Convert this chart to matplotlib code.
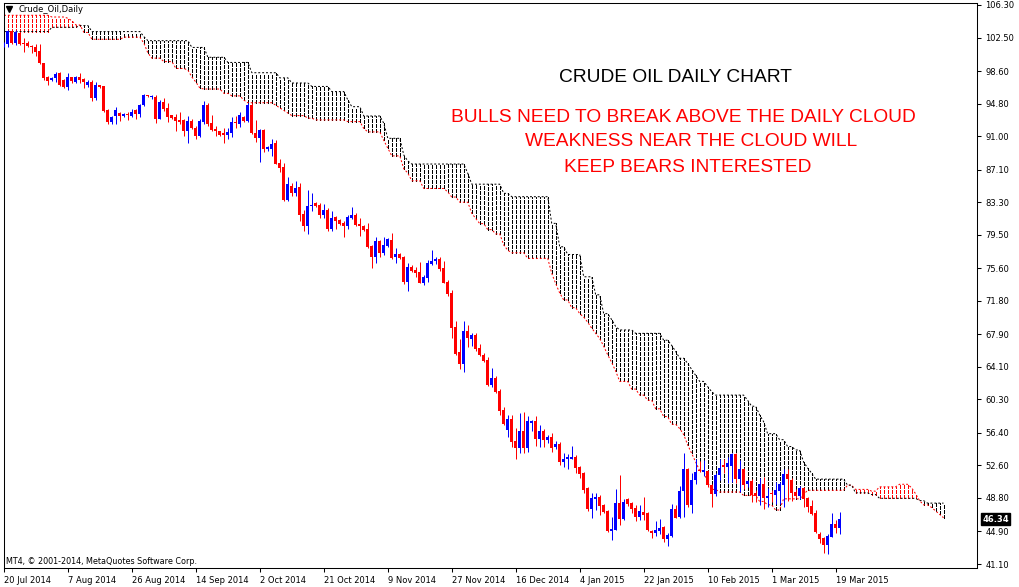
import numpy as np
import matplotlib
matplotlib.use("Agg")
import matplotlib.pyplot as plt

plt.rcParams['lines.scale_dashes'] = False

# ---------------- data ----------------
opens = [101.6,101.75,103.27,101.83,103.07,101.9,101.9,101.55,101.44,100.93,
         99.5,97.9,97.51,97.82,98.4,97.55,96.77,97.86,97.28,97.86,
         97.67,96.97,97.36,95.49,96.93,96.85,94.05,92.69,93.36,93.75,
         93.4,93.51,93.36,94.05,93.55,94.63,95.8,95.6,95.6,93.0,
         95.02,94.25,93.47,93.28,92.89,92.89,91.64,92.77,91.99,91.02,
         92.6,94.64,92.58,91.84,91.6,91.33,91.1,91.41,92.69,92.38,
         93.28,92.81,94.64,91.33,90.75,91.72,89.55,89.5,90.24,87.91,
         87.44,83.55,85.19,84.41,85.11,81.92,80.56,82.86,83.25,82.97,
         81.8,82.39,80.17,81.61,81.22,80.91,80.56,81.42,81.8,80.76,
         80.52,80.13,78.19,76.87,78.77,77.33,78.19,78.89,76.87,77.26,
         76.95,74.03,75.7,75.39,75.2,73.91,74.5,76.09,76.4,76.63,
         75.66,74.03,72.75,68.78,65.86,64.42,68.27,67.34,67.81,66.33,
         65.43,64.89,62.0,62.85,61.32,59.06,56.73,58.01,55.44,54.67,
         56.61,54.67,57.5,57.78,55.68,56.61,55.56,55.87,54.7,55.09,
         53.03,53.3,53.35,53.62,52.45,51.67,49.92,47.51,48.65,48.96,
         47.98,47.32,44.99,45.06,48.18,46.35,48.65,48.18,47.59,46.62,
         47.2,47.0,44.99,44.75,44.99,45.45,44.01,44.36,47.51,46.54,
         49.61,52.18,47.98,50.9,52.06,51.87,51.98,50.31,49.23,51.48,
         52.65,52.45,52.53,53.93,51.01,52.14,50.43,50.78,49.34,49.03,
         50.39,48.84,49.34,49.15,49.65,50.31,51.56,50.9,49.53,49.07,
         49.92,48.84,47.87,47.0,44.6,44.17,43.32,44.29,45.76,45.34]
highs = [102.0,103.4,103.4,103.4,103.2,102.4,102.1,101.67,101.75,101.7,
         99.57,98.0,97.9,98.5,98.5,97.7,98.33,97.94,98.0,98.4,
         97.74,97.55,97.55,97.28,97.0,96.9,94.13,93.35,94.36,93.82,
         93.66,93.82,94.2,94.2,94.75,95.9,95.85,95.8,95.76,95.2,
         95.41,94.83,93.5,93.59,93.86,92.96,93.35,92.96,92.19,93.0,
         95.1,94.83,93.47,92.19,91.64,91.92,91.92,93.2,93.35,93.86,
         93.39,94.83,94.83,92.89,91.8,91.8,89.9,90.63,90.55,88.3,
         87.83,86.2,85.5,85.77,85.5,82.39,84.72,84.4,83.36,83.17,
         83.05,82.58,82.27,81.73,81.3,81.14,81.8,82.78,82.0,81.42,
         80.64,80.83,78.3,79.28,78.89,79.28,79.08,79.74,77.99,77.41,
         77.02,76.17,75.97,75.7,76.36,74.81,76.56,77.72,76.94,76.87,
         76.48,74.22,73.06,69.44,67.3,69.44,68.97,68.08,68.0,66.72,
         65.67,65.2,64.0,63.0,61.47,59.45,58.48,58.48,56.92,58.75,
         58.87,58.36,57.9,58.36,57.31,56.84,56.15,56.42,55.48,55.37,
         54.08,53.93,54.86,53.81,52.53,51.87,50.12,49.42,49.42,49.15,
         48.1,47.4,46.62,49.81,51.48,48.65,48.76,48.37,47.98,47.98,
         48.96,47.12,45.06,46.11,46.35,45.57,44.67,48.1,47.98,50.2,
         54.08,52.34,51.75,53.3,53.15,53.23,52.06,50.43,51.67,53.3,
         53.3,53.62,54.0,54.0,53.23,52.26,50.9,50.98,49.73,51.17,
         51.28,49.92,49.73,50.7,50.62,52.14,52.14,51.09,49.81,50.2,
         50.12,48.96,48.56,47.4,44.87,44.29,44.6,47.0,46.23,47.2]
lows = [101.4,101.4,101.75,101.6,101.6,100.85,101.4,100.66,100.35,99.4,
        97.55,96.93,97.4,97.35,96.9,96.6,96.38,97.16,97.16,97.16,
        96.58,96.77,95.1,95.18,96.65,93.85,92.42,92.42,92.42,92.81,
        93.2,92.9,93.2,92.96,93.27,94.52,95.6,95.37,92.58,92.96,
        93.97,92.69,93.0,91.64,92.38,91.06,90.24,91.84,90.63,90.87,
        92.38,92.22,91.6,91.02,91.02,90.24,90.63,90.94,91.92,92.1,
        92.69,92.69,91.25,90.36,88.0,89.12,89.27,88.69,87.72,86.86,
        83.47,83.44,84.02,84.02,81.1,79.97,79.59,82.3,82.78,81.42,
        81.42,79.94,79.98,80.17,80.64,79.28,80.17,81.34,80.52,79.36,
        79.98,77.92,75.58,76.25,76.94,77.14,78.11,76.67,76.25,76.63,
        73.76,72.98,75.12,74.54,73.83,73.64,74.03,75.97,76.09,75.27,
        73.83,72.35,67.5,65.47,63.84,63.45,66.45,66.56,65.98,65.4,
        64.7,61.9,61.8,61.1,58.48,57.31,55.95,54.78,53.35,54.01,
        54.01,54.2,56.61,54.86,54.7,54.7,55.17,54.2,54.47,52.65,
        52.45,52.18,53.35,51.75,51.17,49.42,47.32,46.5,47.4,46.81,
        47.09,44.87,43.9,45.06,45.65,46.23,47.9,47.09,46.15,46.23,
        46.23,44.95,44.09,44.36,44.6,43.7,43.24,44.29,46.42,46.42,
        46.62,47.71,47.09,50.39,51.87,51.4,50.04,47.79,49.07,50.9,
        51.67,50.51,50.63,50.59,49.46,49.81,50.12,48.37,48.37,47.98,
        47.52,47.71,48.37,48.1,48.1,47.79,48.49,48.49,48.76,48.68,
        47.79,47.12,46.81,44.75,43.51,42.42,42.22,44.21,44.67,44.6]
closes = [101.9,103.27,101.83,103.15,101.75,101.75,101.5,101.36,100.86,99.5,
          97.8,97.43,97.82,98.2,96.97,96.77,97.86,97.43,97.86,97.55,
          97.28,97.36,95.49,96.97,96.77,93.97,92.69,93.2,94.0,93.36,
          93.55,93.43,93.82,93.59,94.6,95.8,95.65,95.7,93.0,95.0,
          94.13,93.28,93.16,92.81,92.69,91.64,92.77,91.99,91.02,92.77,
          94.64,92.42,91.72,91.6,91.14,91.1,91.53,92.69,92.5,93.47,
          92.81,94.64,91.33,90.75,91.72,89.5,89.7,90.09,87.75,87.33,
          83.55,85.42,84.41,84.99,81.8,80.56,82.86,82.97,82.9,81.8,
          82.39,80.17,81.5,81.14,80.76,80.56,81.61,81.8,80.64,80.56,
          80.06,78.11,76.87,78.77,77.41,78.3,78.97,76.83,77.26,76.75,
          74.03,75.7,75.27,75.0,73.91,74.61,76.25,76.48,76.71,75.47,
          73.91,72.59,68.66,65.59,64.42,68.27,67.42,67.81,66.17,65.47,
          64.77,62.0,62.75,61.2,58.94,57.43,58.01,55.37,54.67,56.61,
          54.59,57.78,57.78,55.68,56.61,55.56,55.95,54.59,55.09,53.03,
          53.39,53.62,53.62,52.34,51.56,49.73,47.51,48.84,48.96,47.9,
          47.2,44.95,45.18,48.18,46.35,48.3,48.1,47.51,46.62,47.28,
          46.81,45.06,44.75,45.06,45.33,44.01,44.48,47.51,46.5,49.61,
          52.18,47.98,50.9,51.79,51.9,52.06,50.31,49.23,51.48,52.34,
          52.45,52.92,53.93,51.01,52.14,50.31,50.78,49.15,49.03,50.39,
          48.76,49.07,49.23,49.73,50.39,51.56,50.98,49.42,49.07,49.92,
          48.64,47.79,46.89,44.87,44.01,43.32,44.4,45.76,45.34,46.34]

# Ichimoku Senkou spans: (first bar of run, value)
span_a_runs = [(0,105.1),(12,104.9),(16,104.75),(17,104.45),(18,103.97),(20,103.1),(22,102.3),
    (30,102.55),(35,101.83),(36,100.7),(37,100.1),(40,99.7),(43,98.9),(46,98.7),(47,97.9),(48,97.3),
    (49,96.6),(50,96.5),(55,96.0),(57,95.7),(60,95.2),(61,94.9),(68,94.6),(69,94.3),(70,94.0),
    (71,93.7),(72,93.4),(76,93.1),(78,92.9),(86,92.7),(90,91.9),(91,91.5),(95,90.5),(96,89.6),
    (97,88.7),(100,87.2),(101,86.7),(102,85.8),(105,84.9),(111,84.5),(112,83.9),(114,83.3),
    (117,82.0),(118,81.4),(119,80.8),(121,80.1),(123,79.6),(125,78.3),(126,77.7),(127,77.4),
    (131,76.75),(137,75.0),(138,73.8),(139,72.7),(140,71.9),(142,71.0),(144,70.3),(145,69.9),
    (146,69.3),(147,68.6),(148,68.0),(149,67.4),(150,66.5),(151,65.5),(152,64.6),(153,63.6),
    (154,62.4),(157,61.5),(159,60.8),(161,60.2),(163,59.2),(165,58.3),(167,57.4),(169,56.9),
    (170,56.2),(171,55.0),(172,54.0),(173,53.0),(174,52.0),(176,50.6),(177,49.8),(179,49.5),
    (185,49.1),(189,48.4),(191,48.0),(193,47.4),(195,48.7),(200,49.2),(201,49.7),(211,50.3),
    (213,49.8),(217,49.6),(219,50.1),(224,50.4),(227,50.0),(228,49.3),(229,48.5),(230,48.0),
    (232,47.7),(233,47.3),(234,46.9),(235,46.5)]
span_b_runs = [(0,103.2),(12,103.7),(19,103.9),(22,103.2),(35,102.6),(36,102.14),(47,101.35),
    (51,100.2),(56,99.6),(62,98.4),(69,97.8),(72,97.2),(77,96.8),(82,96.2),(86,95.22),(87,94.44),
    (90,93.35),(95,92.5),(96,90.75),(100,88.8),(101,88.1),(102,87.75),(116,86.67),(117,85.4),
    (125,84.33),(127,83.94),(137,80.83),(139,78.1),(141,77.2),(145,74.6),(148,72.5),(150,70.3),
    (152,69.6),(153,68.8),(154,68.4),(158,68.0),(165,67.2),(167,66.6),(168,65.9),(169,65.1),
    (171,64.5),(172,63.8),(173,63.1),(174,62.4),(176,61.8),(177,61.2),(178,60.8),(186,60.2),
    (187,59.5),(189,58.5),(190,57.7),(191,56.3),(194,55.6),(196,54.8),(198,54.4),(200,53.0),
    (201,52.3),(202,51.7),(203,51.0),(211,50.3),(213,49.4),(217,49.2),(219,48.76),(229,48.5),
    (231,48.2)]
cloud_last_bar = 235

date_labels = ["20 Jul 2014","7 Aug 2014","26 Aug 2014","14 Sep 2014","2 Oct 2014",
               "21 Oct 2014","9 Nov 2014","27 Nov 2014","16 Dec 2014","4 Jan 2015",
               "22 Jan 2015","10 Feb 2015","1 Mar 2015","19 Mar 2015"]
date_label_bars = [0,16,32,48,64,80,96,112,128,144,160,176,192,208]
price_ticks = [106.30,102.50,98.60,94.80,91.00,87.10,83.30,79.50,75.60,71.80,
               67.90,64.10,60.30,56.40,52.60,48.80,44.90,41.10]
last_price = 46.34

# ---------------- figure ----------------
W, H = 1020, 587
fig = plt.figure(figsize=(W/100, H/100), dpi=100)
L, R, T, B = 4, 977, 3, 568
ax = fig.add_axes([L/W, 1-B/H, (R-L)/W, (B-T)/H])

def expand(runs, last):
    vals = np.empty(last+1)
    for k, (s, v) in enumerate(runs):
        e = runs[k+1][0] if k+1 < len(runs) else last+1
        vals[s:e] = v
    return vals

sa = expand(span_a_runs, cloud_last_bar)
sb = expand(span_b_runs, cloud_last_bar)
ci = np.arange(cloud_last_bar+1)
lo = np.minimum(sa, sb); hi = np.maximum(sa, sb)
cols = np.where(sa > sb, '#ff0000', '#000000')
ax.vlines(ci, lo, hi, colors=cols, linewidth=0.72,
          linestyles=[(0, (2.2, 1.4))], zorder=1, antialiased=False)
ax.plot(ci, sa, color='#ff0000', lw=0.72, ls=(0, (1.4, 1.4)), zorder=2)
ax.plot(ci, sb, color='#000000', lw=0.72, ls=(0, (1.4, 1.4)), zorder=2)

o = np.array(opens); h = np.array(highs); l = np.array(lows); c = np.array(closes)
idx = np.arange(len(o))
ccol = np.where(c >= o, '#0000ff', '#ff0000')
ax.vlines(idx, l, h, colors=ccol, linewidth=0.72, zorder=3)
body_lo = np.minimum(o, c)
body_h = np.maximum(np.abs(c - o), 0.12)
ax.bar(idx, body_h, bottom=body_lo, width=0.75, color=ccol, linewidth=0, zorder=4)

# bar centres fall on pixel centres (3.5 + 4*i px)
ax.set_xlim((L-3.5)/4, (R-3.5)/4)
ppx = (106.30-41.10)/(564-5)
ax.set_ylim(106.30-(B-5)*ppx, 106.30+(5-T)*ppx)

for s in ax.spines.values():
    s.set_color('black'); s.set_linewidth(0.75)

ax.yaxis.tick_right()
ax.set_yticks(price_ticks)
ax.set_yticklabels([f"{v:.2f}" for v in price_ticks])
ax.tick_params(axis='y', direction='out', length=3, width=0.75, pad=3,
               labelsize=6, colors='black')
ax.set_xticks(date_label_bars)
ax.set_xticklabels(date_labels, ha='left')
ax.tick_params(axis='x', direction='out', length=3, width=0.75, pad=3,
               labelsize=6, colors='black')

# last price tag
ax.annotate(f"{last_price:.2f}", xy=(1.0, last_price), xycoords=('axes fraction', 'data'),
            xytext=(4, 0), textcoords='offset points', ha='left', va='center',
            fontsize=6, color='white', fontweight='bold',
            bbox=dict(boxstyle='square,pad=0.15', fc='black', ec='black'), zorder=10,
            annotation_clip=False)

# texts
def ftext(x, y, s, **kw):
    fig.text(x/W, 1-y/H, s, **kw)

ftext(19, 10, "Crude_Oil,Daily", fontsize=6, ha='left', va='center', color='black')
fig.lines.append(plt.Line2D([9.5/W], [1-9/H], marker='v', markersize=4, color='black',
                            transform=fig.transFigure))
ftext(6, 562, "MT4, \u00a9 2001-2014, MetaQuotes Software Corp.", fontsize=5.8,
      ha='left', va='center', color='black')

big = dict(family='Liberation Sans', fontsize=13.8, ha='center', va='center')
ftext(676, 77, "CRUDE OIL DAILY CHART", color='black', **big)
ftext(683, 117, "BULLS NEED TO BREAK ABOVE THE DAILY CLOUD", color='#ff0000', **big)
ftext(691, 142, "WEAKNESS NEAR THE CLOUD WILL", color='#ff0000', **big)
ftext(688, 168, "KEEP BEARS INTERESTED", color='#ff0000', **big)

fig.savefig("out.png", dpi=100, facecolor='white')
